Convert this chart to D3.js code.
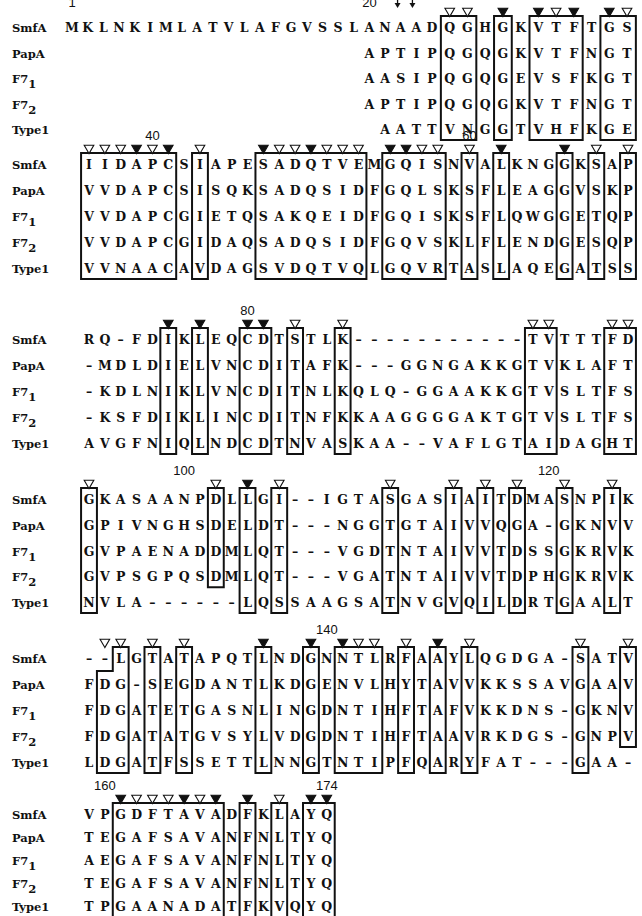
<!DOCTYPE html>
<html>
<head>
<meta charset="utf-8">
<script src="https://cdn.jsdelivr.net/npm/d3@7"></script>
<style>
body{margin:0;background:#fff;}
.res{font-family:"DejaVu Serif",serif;font-weight:bold;font-size:12.5px;fill:#111;}
.name{font-family:"DejaVu Serif",serif;font-weight:bold;font-size:11.5px;fill:#111;}
.num{font-family:"Liberation Sans",sans-serif;font-size:13px;fill:#111;}
.box{fill:none;stroke:#111;stroke-width:2;}
</style>
</head>
<body>
<script>
// sequence names (F7 gets a subscript)
var rowNames = ["SmfA", "PapA", "F7", "F7", "Type1"];
var rowSubs = ["", "", "1", "2", ""];

// alignment blocks, 35 columns each (space = nothing printed)
var block1 = [
    "MKLNKIMLATVLAFGVSSLANAADQGHGKVTFTGS",
    "                   APTIPQGQGKVTFNGT",
    "                   AASIPQGQGEVSFKGT",
    "                   APTIPQGQGKVTFNGT",
    "                    AATTVNGGTVHFKGE"
];
var block2 = [
    "IIDAPCSIAPESADQTVEMGQISNVALKNGGKSAP",
    "VVDAPCSISQKSADQSIDFGQLSKSFLEAGGVSKP",
    "VVDAPCGIETQSAKQEIDFGQISKSFLQWGGETQP",
    "VVDAPCGIDAQSADQSIDFGQVSKLFLENDGESQP",
    "VVNAACAVDAGSVDQTVQLGQVRTASLAQEGATSS"
];
var block3 = [
    "RQ-FDIKLEQCDTSTLK-----------TVTTTFD",
    "-MDLDIELVNCDITAFK---GGNGAKKGTVKLAFT",
    "-KDLNIKLVNCDITNLKQLQ-GGAAKKGTVSLTFS",
    "-KSFDIKLINCDITNFKKAAGGGGAKTGTVSLTFS",
    "AVGFNIQLNDCDTNVASKAA--VAFLGTAIDAGHT"
];
var block4 = [
    "GKASAANPDLLGI--IGTASGASIAITDMASNPIK",
    "GPIVNGHSDELDT---NGGTGTAIVVQGA-GKNVV",
    "GVPAENADDMLQT---VGDTNTAIVVTDSSGKRVK",
    "GVPSGPQSDMLQT---VGATNTAIVVTDPHGKRVK",
    "NVLA------LQSSAAGSATNVGVQILDRTGAALT"
];
var block5 = [
    "--LGTATAPQTLNDGNNTLRFAAYLQGDGA-SATV",
    "FDG-SEGDANTLKDGENVLHYTAVVKKSSAVGAAV",
    "FDGATETGASNLINGDNTIHFTAFVKKDNS-GKNV",
    "FDGATATGVSYLVDGDNTIHFTAAVRKDGS-GNPV",
    "LDGATFSSETTLNNGTNTIPFQARYFAT---GAA-"
];
var block6 = [
    "VPGDFTAVADFKLAYQ",
    "TEGAFSAVANFNLTYQ",
    "AEGAFSAVANFNLTYQ",
    "TEGAFSAVANFNLTYQ",
    "TPGAANADATFKVQYQ"
];
var blocks = [block1, block2, block3, block4, block5, block6];

// boxed columns: [first col, last col, first row, last row]
var boxes1 = [[25,26,0,4],[28,28,0,4],[30,32,0,4],[34,35,0,4]];
var boxes2 = [[1,6,0,4],[8,8,0,4],[12,18,0,4],[20,23,0,4],[25,25,0,4],[27,27,0,4],[31,31,0,4],[33,33,0,4],[35,35,0,4]];
var boxes3 = [[6,6,0,4],[8,8,0,4],[11,12,0,4],[14,14,0,4],[17,17,0,4],[29,30,0,4],[34,35,0,4]];
var boxes4 = [[1,1,0,4],[9,9,0,3],[11,11,0,4],[13,13,0,4],[20,20,0,4],[24,24,0,4],[26,26,0,4],[28,28,0,4],[31,31,0,4],[34,34,0,4]];
var boxes5 = [[5,5,0,4],[7,7,0,4],[12,12,0,4],[15,15,0,4],[17,19,0,4],[21,21,0,4],[23,23,0,4],[25,25,0,4],[32,32,0,4],[35,35,0,3]];
var boxes6 = [[3,9,0,4],[11,11,0,4],[13,13,0,4],[15,16,0,4]];
var boxes = [boxes1, boxes2, boxes3, boxes4, boxes5, boxes6];
// stepped box in block 5: col 3 on top row, cols 2-3 below
var stepBox = {block: 4, top: [3,3], rest: [2,3]};

// triangles over columns: o = open, f = filled
var marks1 = [[25,"o"],[26,"o"],[28,"f"],[30,"f"],[31,"o"],[32,"f"],[34,"f"],[35,"o"]];
var marks2 = [[1,"o"],[2,"o"],[3,"o"],[4,"f"],[5,"o"],[6,"f"],[8,"o"],[12,"f"],[13,"o"],[14,"o"],[15,"f"],[16,"o"],[17,"o"],[18,"o"],
              [20,"f"],[21,"f"],[22,"o"],[23,"o"],[25,"o"],[27,"f"],[31,"f"],[33,"o"],[35,"o"]];
var marks3 = [[6,"f"],[8,"f"],[11,"f"],[12,"f"],[14,"o"],[17,"o"],[29,"o"],[30,"o"],[34,"o"],[35,"o"]];
var marks4 = [[1,"o"],[9,"o"],[11,"f"],[13,"o"],[20,"o"],[24,"o"],[26,"o"],[28,"o"],[31,"o"],[34,"o"]];
var marks5 = [[2,"o"],[3,"o"],[5,"o"],[7,"o"],[12,"f"],[15,"f"],[17,"f"],[18,"o"],[19,"o"],[21,"o"],[23,"f"],[25,"o"],[32,"o"],[35,"o"]];
var marks6 = [[3,"f"],[4,"o"],[5,"o"],[6,"o"],[7,"f"],[8,"o"],[9,"f"],[11,"f"],[13,"o"],[15,"f"],[16,"f"]];
var marks = [marks1, marks2, marks3, marks4, marks5, marks6];

// residue numbers: [block, col, label]
var numLabels = [[0,1,"1"],[0,20,"20"],[1,5,"40"],[1,25,"60"],[2,11,"80"],[3,7,"100"],[3,30,"120"],[4,16,"140"],[5,2,"160"],[5,16,"174"]];
// cleavage arrows in block 1 (between columns)
var arrowCols = [21.8, 22.75];

window.onload = draw();

function draw(){
    var width = 642, height = 916;
    var svg = d3.select("body").append("svg")
        .attr("width", width)
        .attr("height", height);

    //column positions; the first block was typed with its own spacing
    var x = d3.scaleLinear().domain([1, 35]).range([89, 628]);
    var xFirst = d3.scaleLinear().domain([1, 24, 35]).range([72, 432, 627]);
    var xs = blocks.map(function(d, i){ return i == 0 ? xFirst : x; });

    //row positions for each block (first row, last row)
    var rowSpan = [[27,129],[164,268],[339,443],[499,602],[658,762],[814,906]];
    var ys = rowSpan.map(function(r){
        return d3.scaleLinear().domain([0, 4]).range(r);
    });

    blocks.forEach(function(blk, b){
        var y = ys[b], xb = xs[b];
        var colW = function(c){ return xb(c + 0.5) - xb(c - 0.5); };
        var g = svg.append("g").attr("class", "block" + (b+1));
        var boxTop = y(0) - 11, boxBot = function(r){ return y(r) + 11; };

        //sequence names
        var nm = g.selectAll(".name").data(rowNames).enter()
            .append("text")
            .attr("class", "name")
            .attr("x", 12)
            .attr("y", function(d, i){ return y(i) + 5; })
            .text(function(d){ return d; });
        nm.append("tspan")
            .attr("dy", 5)
            .text(function(d, i){ return rowSubs[i]; });

        //residues, one text per letter
        blk.forEach(function(seq, r){
            var letters = seq.split("").map(function(c, i){ return {c: c, col: i+1}; })
                .filter(function(d){ return d.c != " "; });
            g.selectAll(".r" + r).data(letters).enter()
                .append("text")
                .attr("class", "res r" + r)
                .attr("text-anchor", "middle")
                .attr("x", function(d){ return xb(d.col); })
                .attr("y", y(r) + 5)
                .text(function(d){ return d.c == "-" ? "\u2013" : d.c; });
        });

        //boxes
        g.selectAll(".box").data(boxes[b]).enter()
            .append("rect")
            .attr("class", "box")
            .attr("x", function(d){ return xb(d[0] - 0.5); })
            .attr("y", boxTop)
            .attr("width", function(d){ return xb(d[1] + 0.5) - xb(d[0] - 0.5); })
            .attr("height", function(d){ return boxBot(d[3]) - boxTop; });

        if (stepBox.block == b){
            var mid = (y(0) + y(1)) / 2;
            var l1 = xb(stepBox.top[0] - 0.5), r1 = xb(stepBox.top[1] + 0.5);
            var l2 = xb(stepBox.rest[0] - 0.5);
            var pts = [[l1, boxTop],[r1, boxTop],[r1, boxBot(4)],[l2, boxBot(4)],[l2, mid],[l1, mid]];
            g.append("path")
                .attr("class", "box")
                .attr("d", d3.line()(pts) + "Z");
        }

        //triangles sitting on the box top
        var tri = d3.symbol().type(d3.symbolTriangle).size(40);
        g.selectAll(".tri").data(marks[b]).enter()
            .append("path")
            .attr("class", "tri")
            .attr("transform", function(d){ return "translate(" + xb(d[0]) + "," + (boxTop - 5) + ") rotate(180)"; })
            .attr("d", tri)
            .attr("fill", function(d){ return d[1] == "f" ? "#111" : "#fff"; })
            .attr("stroke", "#111")
            .attr("stroke-width", 1.1);
    });

    //residue numbers
    svg.selectAll(".num").data(numLabels).enter()
        .append("text")
        .attr("class", "num")
        .attr("text-anchor", "middle")
        .attr("x", function(d){ return xs[d[0]](d[1]); })
        .attr("y", function(d){ return ys[d[0]](0) - 24 + (d[0] == 0 ? 4 : 0); })
        .text(function(d){ return d[2]; });

    //arrows
    var ay = ys[0](0) - 24;
    arrowCols.forEach(function(c){
        var ax = xFirst(c);
        svg.append("line")
            .attr("x1", ax).attr("x2", ax)
            .attr("y1", ay - 7).attr("y2", ay + 1)
            .attr("stroke", "#111").attr("stroke-width", 1.3);
        svg.append("path")
            .attr("d", d3.line()([[ax-3, ay], [ax+3, ay], [ax, ay+5]]) + "Z")
            .attr("fill", "#111");
    });
}
</script>
</body>
</html>
